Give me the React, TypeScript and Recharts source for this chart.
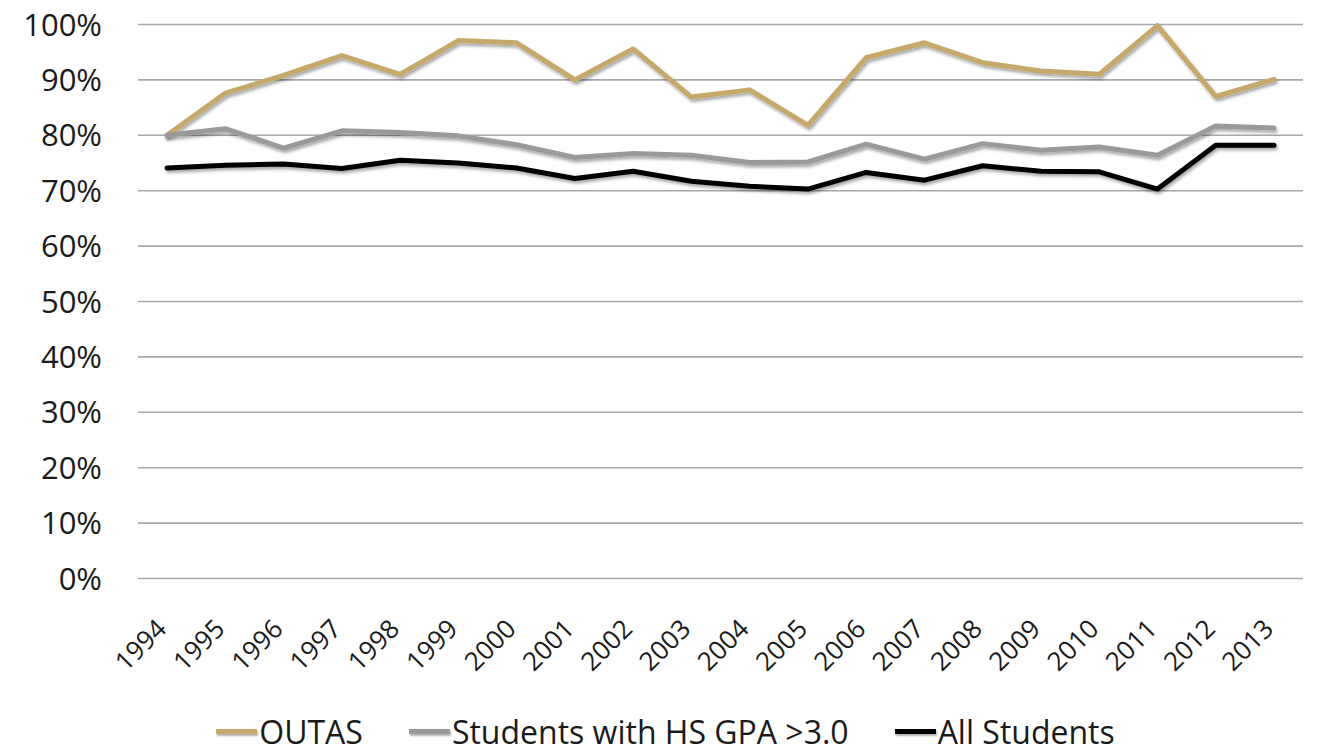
import React from "react";
import {CartesianGrid, Legend, Line, LineChart, XAxis, YAxis} from "recharts";

const years = ["1994", "1995", "1996", "1997", "1998", "1999", "2000", "2001", "2002", "2003",
    "2004", "2005", "2006", "2007", "2008", "2009", "2010", "2011", "2012", "2013"];

const outas = [80.0, 87.6, 90.8, 94.4, 91.0, 97.1, 96.7, 90.0, 95.6, 86.9,
    88.2, 81.8, 94.0, 96.7, 93.1, 91.6, 91.0, 99.8, 87.0, 90.1];

const gpaStudents = [80.0, 81.2, 77.7, 80.8, 80.5, 79.9, 78.3, 76.0, 76.7, 76.4,
    75.1, 75.2, 78.4, 75.7, 78.5, 77.3, 77.9, 76.4, 81.7, 81.3];

const allStudents = [74.1, 74.6, 74.8, 74.0, 75.5, 75.0, 74.1, 72.2, 73.5, 71.7,
    70.8, 70.3, 73.3, 71.9, 74.5, 73.5, 73.4, 70.3, 78.2, 78.2];

const yTicks = [0, 10, 20, 30, 40, 50, 60, 70, 80, 90, 100];

const series = [
    {key: "outas", name: "OUTAS", color: "#c5a86a"},
    {key: "gpa", name: "Students with HS GPA >3.0", color: "#9a9a9a"},
    {key: "all", name: "All Students", color: "#000000"},
];

const data = years.map((year, i) => ({
    year,
    outas: outas[i],
    gpa: gpaStudents[i],
    all: allStudents[i],
}));

const FONT = "'Open Sans', sans-serif";

const YearTick = ({x, y, payload}: any) => (
    <g transform={`translate(${x + 1},${y + 52})`}>
        <text transform="rotate(-45)" textAnchor="end" fontSize={26} fontFamily={FONT} fill="#1a1a1a">
            {payload.value}
        </text>
    </g>
);

const renderLegend = () => (
    <div style={{display: "flex", justifyContent: "center", fontFamily: FONT, fontSize: 32,
        lineHeight: "32px", color: "#1a1a1a", paddingLeft: 14}}>
        {series.map(s => (
            <div key={s.key} style={{display: "flex", alignItems: "center", margin: "0 23px"}}>
                <span style={{
                    display: "inline-block",
                    width: 41,
                    height: 5,
                    background: s.color,
                    marginRight: 2,
                    transform: "translateY(-1px)",
                    boxShadow: "1px 2px 2px rgba(0,0,0,0.3)",
                }}/>
                {s.name}
            </div>
        ))}
    </div>
);

export default function App() {
    return (
        <div style={{position: "absolute", left: 0, top: 0, background: "#fff"}}>
            <LineChart width={1317} height={753} data={data} margin={{top: 24.5, right: 14, left: 0, bottom: 0}}>
                <defs>
                    <filter id="shadow" x="-5%" y="-20%" width="110%" height="140%">
                        <feDropShadow dx="1.5" dy="2.5" stdDeviation="1.8" floodColor="#000" floodOpacity="0.35"/>
                    </filter>
                </defs>
                <CartesianGrid vertical={false} stroke="#a8a8a8" strokeWidth={1.6}/>
                <XAxis dataKey="year" axisLine={false} tickLine={false} tickSize={0} tickMargin={0}
                       interval={0} height={174.5} padding={{left: 29, right: 29}} tick={<YearTick/>}/>
                <YAxis domain={[0, 100]} ticks={yTicks} axisLine={false} tickLine={false} tickSize={0}
                       tickMargin={36} width={138} tickFormatter={(v: number) => `${v}%`}
                       tick={{fontSize: 31, fontFamily: FONT, fill: "#1a1a1a"}}/>
                <Legend verticalAlign="middle" align="center" content={renderLegend}
                        wrapperStyle={{top: 716, left: 0, width: 1317}}/>
                {series.map(s => (
                    <Line key={s.key} dataKey={s.key} name={s.name} type="linear" stroke={s.color}
                          strokeWidth={5} dot={false} activeDot={false} strokeLinejoin="round"
                          strokeLinecap="round" filter="url(#shadow)" isAnimationActive={false}/>
                ))}
            </LineChart>
        </div>
    );
}
